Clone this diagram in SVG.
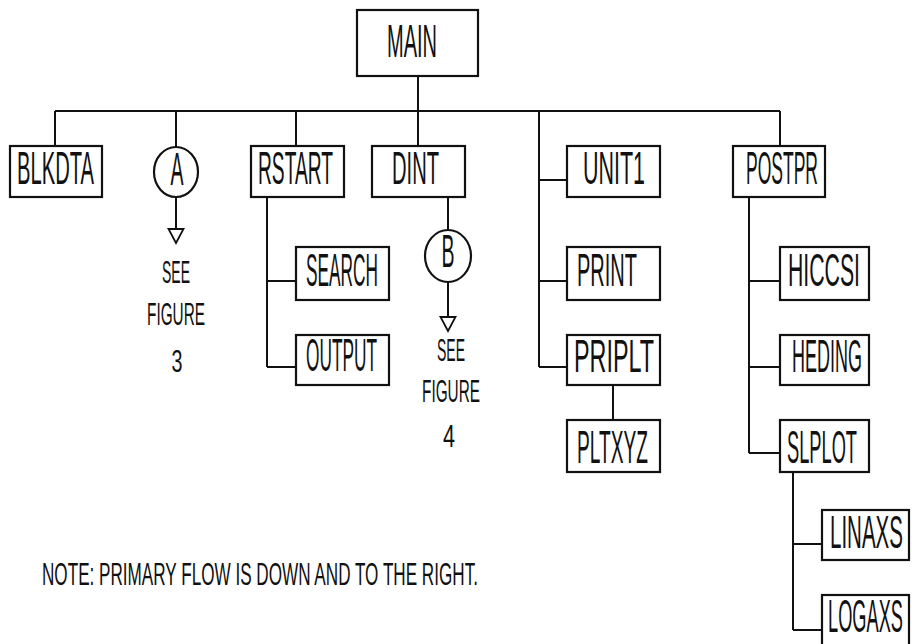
<svg xmlns="http://www.w3.org/2000/svg" xmlns:xlink="http://www.w3.org/1999/xlink" width="912" height="644" viewBox="0 0 912 644">
<style>
.box{fill:#fff;stroke:#111;stroke-width:2.2}
.ln{fill:none;stroke:#111;stroke-width:2}
.lbl{font-family:"Liberation Sans",Arial,sans-serif;font-size:46px;fill:#111}
.cap{font-family:"Liberation Sans",Arial,sans-serif;font-size:31px;fill:#111}
.tri{fill:#fff;stroke:#111;stroke-width:1.8}
</style>
<defs>
<path id="tri" class="tri" d="M-7.5,0 L7.5,0 L0,14 Z"/>
</defs>
<rect width="912" height="644" fill="#fff"/>
<g id="connectors">
<path class="ln" d="M418,76 V146"/>
<path class="ln" d="M55,111 H780"/>
<path class="ln" d="M55,111 V146 M176,111 V147 M296,111 V146 M780,111 V146"/>
<path class="ln" d="M539,111 V367 M539,180 H567 M539,281 H567 M539,367 H567"/>
<path class="ln" d="M267,197 V367 M267,281 H296 M267,367 H296"/>
<path class="ln" d="M448,197 V230"/>
<path class="ln" d="M176,197 V229"/>
<use xlink:href="#tri" x="176" y="229"/>
<path class="ln" d="M448,282 V317"/>
<use xlink:href="#tri" x="448" y="317"/>
<path class="ln" d="M613,385 V420"/>
<path class="ln" d="M749,197 V453 M749,281 H780 M749,367 H780 M749,453 H780"/>
<path class="ln" d="M793,472 V630 M793,544 H822 M793,630 H822"/>
</g>
<g id="MAIN"><rect class="box" x="357" y="10" width="121" height="66"/><text class="lbl" transform="translate(387,57) scale(0.4,1)" textLength="125" lengthAdjust="spacingAndGlyphs">MAIN</text></g>
<g id="BLKDTA"><rect class="box" x="10" y="146" width="92" height="51"/><text class="lbl" transform="translate(17,184) scale(0.4,1)" textLength="192.5" lengthAdjust="spacingAndGlyphs">BLKDTA</text></g>
<g id="A"><ellipse class="box" cx="176" cy="172" rx="22" ry="25"/><text class="lbl" transform="translate(177,185) scale(0.4,1)" font-size="40" text-anchor="middle" textLength="32.5" lengthAdjust="spacingAndGlyphs">A</text></g>
<g id="seefig3"><text class="cap" transform="translate(176,283) scale(0.5,1)" text-anchor="middle" textLength="56" lengthAdjust="spacingAndGlyphs">SEE</text><text class="cap" transform="translate(176,325) scale(0.5,1)" text-anchor="middle" textLength="116" lengthAdjust="spacingAndGlyphs">FIGURE</text><text class="cap" transform="translate(177,372) scale(0.5,1)" text-anchor="middle" textLength="22" lengthAdjust="spacingAndGlyphs">3</text></g>
<g id="RSTART"><rect class="box" x="251" y="146" width="93" height="51"/><text class="lbl" transform="translate(258,184) scale(0.4,1)" textLength="187.5" lengthAdjust="spacingAndGlyphs">RSTART</text></g>
<g id="DINT"><rect class="box" x="372" y="146" width="93" height="51"/><text class="lbl" transform="translate(392,184) scale(0.4,1)" textLength="117.5" lengthAdjust="spacingAndGlyphs">DINT</text></g>
<g id="B"><ellipse class="box" cx="448" cy="256" rx="23" ry="26"/><text class="lbl" transform="translate(448,267) scale(0.4,1)" font-size="44" text-anchor="middle" textLength="32.5" lengthAdjust="spacingAndGlyphs">B</text></g>
<g id="seefig4"><text class="cap" transform="translate(451,361) scale(0.5,1)" text-anchor="middle" textLength="56" lengthAdjust="spacingAndGlyphs">SEE</text><text class="cap" transform="translate(451,402) scale(0.5,1)" text-anchor="middle" textLength="116" lengthAdjust="spacingAndGlyphs">FIGURE</text><text class="cap" transform="translate(449,447) scale(0.5,1)" text-anchor="middle" textLength="24" lengthAdjust="spacingAndGlyphs">4</text></g>
<g id="UNIT1"><rect class="box" x="567" y="146" width="93" height="51"/><text class="lbl" transform="translate(583,184) scale(0.4,1)" textLength="155" lengthAdjust="spacingAndGlyphs">UNIT1</text></g>
<g id="POSTPR"><rect class="box" x="733" y="146" width="92" height="51"/><text class="lbl" transform="translate(746,184) scale(0.4,1)" textLength="180" lengthAdjust="spacingAndGlyphs">POSTPR</text></g>
<g id="SEARCH"><rect class="box" x="296" y="247" width="93" height="53"/><text class="lbl" transform="translate(306,286) scale(0.4,1)" textLength="180" lengthAdjust="spacingAndGlyphs">SEARCH</text></g>
<g id="OUTPUT"><rect class="box" x="296" y="335" width="93" height="50"/><text class="lbl" transform="translate(306,371) scale(0.4,1)" textLength="177.5" lengthAdjust="spacingAndGlyphs">OUTPUT</text></g>
<g id="PRINT"><rect class="box" x="567" y="247" width="93" height="53"/><text class="lbl" transform="translate(577,286) scale(0.4,1)" textLength="150" lengthAdjust="spacingAndGlyphs">PRINT</text></g>
<g id="PRIPLT"><rect class="box" x="567" y="335" width="93" height="50"/><text class="lbl" transform="translate(574,372) scale(0.4,1)" textLength="200" lengthAdjust="spacingAndGlyphs">PRIPLT</text></g>
<g id="PLTXYZ"><rect class="box" x="567" y="420" width="93" height="52"/><text class="lbl" transform="translate(577,463) scale(0.4,1)" textLength="177.5" lengthAdjust="spacingAndGlyphs">PLTXYZ</text></g>
<g id="HICCSI"><rect class="box" x="780" y="247" width="89" height="53"/><text class="lbl" transform="translate(788,286) scale(0.4,1)" textLength="180" lengthAdjust="spacingAndGlyphs">HICCSI</text></g>
<g id="HEDING"><rect class="box" x="780" y="335" width="89" height="50"/><text class="lbl" transform="translate(792,372) scale(0.4,1)" textLength="175" lengthAdjust="spacingAndGlyphs">HEDING</text></g>
<g id="SLPLOT"><rect class="box" x="780" y="420" width="89" height="52"/><text class="lbl" transform="translate(787,463) scale(0.4,1)" textLength="175" lengthAdjust="spacingAndGlyphs">SLPLOT</text></g>
<g id="LINAXS"><rect class="box" x="822" y="510" width="87" height="50"/><text class="lbl" transform="translate(830,548) scale(0.4,1)" textLength="182.5" lengthAdjust="spacingAndGlyphs">LINAXS</text></g>
<g id="LOGAXS"><rect class="box" x="822" y="595" width="87" height="52"/><text class="lbl" transform="translate(828,632) scale(0.4,1)" textLength="187.5" lengthAdjust="spacingAndGlyphs">LOGAXS</text></g>
<g id="note"><text class="cap" transform="translate(42,585) scale(0.5,1)" textLength="872" lengthAdjust="spacingAndGlyphs">NOTE:  PRIMARY FLOW IS DOWN AND TO THE RIGHT.</text></g>
</svg>
